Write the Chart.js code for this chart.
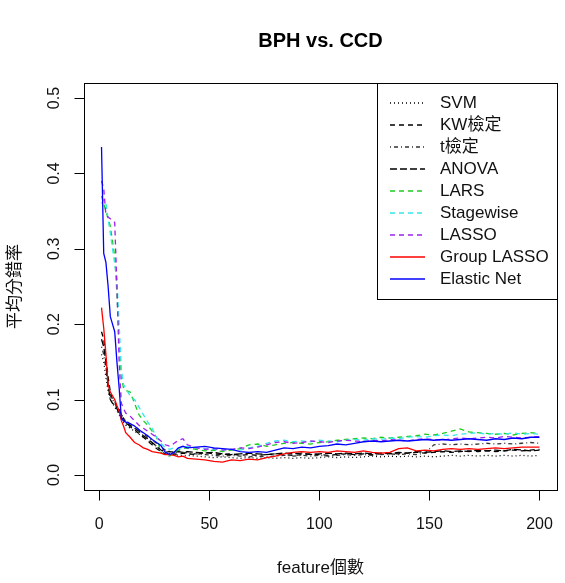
<!DOCTYPE html>
<html>
<head>
<meta charset="utf-8">
<script src="https://cdn.jsdelivr.net/npm/chart.js@4.4.1/dist/chart.umd.min.js"></script>
<style>
body{margin:0;background:#fff;}
canvas{display:block;}
</style>
</head>
<body>
<canvas id="grafik-error" width="565" height="583"></canvas>
<script>
// feature counts (x) and mean error rate per method (y)
const features=[1,2,3,4,5,6,7,8,9,10,11,12,
	14,16,18,20,22,24,26,28,30,32,34,36,38,40,
	44,48,52,56,60,64,68,72,76,80,84,88,92,96,100,
	104,108,112,116,120,124,128,132,136,140,144,148,152,156,160,
	164,168,172,176,180,184,188,192,196,200];

const svmErr=[0.160,0.150,0.130,0.110,0.100,0.095,0.090,0.085,0.080,0.075,0.070,0.066,
	0.062,0.058,0.054,0.050,0.046,0.042,0.038,0.034,0.030,0.028,0.027,0.026,0.025,0.026,
	0.025,0.024,0.023,0.024,0.023,0.022,0.023,0.022,0.023,0.022,0.023,0.022,0.023,0.022,0.023,
	0.024,0.023,0.024,0.023,0.024,0.025,0.024,0.025,0.024,0.025,0.024,0.025,0.024,0.025,0.026,
	0.025,0.026,0.025,0.026,0.025,0.026,0.025,0.026,0.025,0.026];
const kwErr=[0.190,0.180,0.155,0.130,0.110,0.100,0.098,0.090,0.087,0.080,0.075,0.070,
	0.064,0.060,0.055,0.050,0.045,0.040,0.035,0.031,0.028,0.027,0.028,0.027,0.029,0.028,
	0.027,0.030,0.028,0.027,0.028,0.026,0.027,0.026,0.027,0.028,0.027,0.026,0.027,0.028,0.027,
	0.026,0.027,0.028,0.027,0.028,0.027,0.028,0.029,0.028,0.029,0.030,0.029,0.030,0.031,0.030,
	0.031,0.032,0.031,0.032,0.031,0.032,0.033,0.032,0.033,0.034];
const tErr=[0.170,0.160,0.140,0.115,0.105,0.100,0.095,0.090,0.085,0.080,0.076,0.072,
	0.068,0.065,0.060,0.055,0.050,0.046,0.042,0.037,0.033,0.031,0.030,0.032,0.030,0.029,
	0.028,0.027,0.026,0.025,0.026,0.025,0.024,0.025,0.024,0.025,0.026,0.025,0.026,0.025,0.026,
	0.025,0.026,0.027,0.026,0.027,0.026,0.027,0.028,0.027,0.028,0.027,0.029,0.040,0.041,0.040,
	0.041,0.040,0.041,0.042,0.041,0.042,0.041,0.042,0.043,0.042];
const anovaErr=[0.180,0.170,0.150,0.120,0.100,0.095,0.093,0.088,0.082,0.076,0.072,0.068,
	0.066,0.062,0.058,0.052,0.048,0.043,0.038,0.033,0.030,0.031,0.030,0.031,0.030,0.031,
	0.030,0.029,0.030,0.028,0.027,0.028,0.029,0.028,0.027,0.028,0.029,0.028,0.029,0.027,0.028,
	0.029,0.028,0.029,0.028,0.029,0.028,0.029,0.028,0.030,0.029,0.031,0.030,0.031,0.032,0.031,
	0.032,0.031,0.033,0.032,0.033,0.032,0.034,0.033,0.032,0.033];
const larsErr=[0.370,0.360,0.350,0.340,0.330,0.310,0.290,0.240,0.180,0.130,0.115,0.112,
	0.110,0.095,0.080,0.072,0.066,0.058,0.050,0.030,0.026,0.025,0.030,0.033,0.035,0.036,
	0.034,0.032,0.033,0.031,0.033,0.035,0.040,0.041,0.038,0.040,0.042,0.043,0.042,0.041,0.043,
	0.044,0.046,0.047,0.048,0.049,0.048,0.050,0.049,0.050,0.051,0.052,0.054,0.053,0.055,0.058,
	0.061,0.057,0.056,0.055,0.054,0.055,0.053,0.055,0.056,0.055];
const stagewiseErr=[0.360,0.365,0.360,0.340,0.320,0.300,0.280,0.260,0.200,0.140,0.120,0.115,
	0.105,0.100,0.090,0.080,0.070,0.062,0.050,0.042,0.036,0.034,0.036,0.035,0.037,0.038,
	0.036,0.035,0.034,0.033,0.034,0.033,0.036,0.038,0.042,0.045,0.046,0.044,0.045,0.044,0.046,
	0.045,0.044,0.046,0.047,0.046,0.048,0.047,0.049,0.048,0.050,0.051,0.050,0.052,0.053,0.052,
	0.054,0.055,0.056,0.054,0.055,0.054,0.056,0.054,0.055,0.054];
const lassoErr=[0.390,0.380,0.345,0.342,0.340,0.338,0.335,0.250,0.150,0.095,0.088,0.082,
	0.078,0.072,0.066,0.062,0.058,0.054,0.050,0.045,0.040,0.038,0.042,0.046,0.048,0.040,
	0.036,0.034,0.035,0.033,0.034,0.036,0.035,0.037,0.040,0.043,0.044,0.042,0.043,0.045,0.044,
	0.043,0.045,0.046,0.045,0.044,0.046,0.045,0.047,0.046,0.045,0.047,0.048,0.047,0.046,0.048,
	0.049,0.048,0.049,0.050,0.049,0.051,0.050,0.049,0.050,0.051];
const groupLassoErr=[0.222,0.195,0.160,0.120,0.110,0.105,0.100,0.092,0.085,0.072,0.065,0.056,
	0.050,0.043,0.040,0.036,0.034,0.031,0.030,0.029,0.027,0.027,0.026,0.024,0.025,0.022,
	0.021,0.020,0.018,0.017,0.020,0.019,0.021,0.020,0.023,0.025,0.028,0.030,0.031,0.030,0.031,
	0.030,0.032,0.031,0.030,0.032,0.030,0.029,0.030,0.035,0.036,0.032,0.033,0.032,0.034,0.035,
	0.034,0.035,0.034,0.035,0.036,0.035,0.036,0.037,0.037,0.037];
const elasticNetErr=[0.435,0.294,0.282,0.250,0.210,0.200,0.190,0.150,0.116,0.075,0.072,0.070,
	0.068,0.065,0.060,0.056,0.052,0.047,0.043,0.039,0.030,0.027,0.030,0.036,0.038,0.036,
	0.037,0.038,0.036,0.035,0.034,0.031,0.030,0.031,0.030,0.033,0.036,0.035,0.037,0.036,0.038,
	0.039,0.041,0.040,0.042,0.044,0.045,0.044,0.045,0.046,0.045,0.046,0.047,0.046,0.047,0.046,
	0.047,0.048,0.047,0.046,0.048,0.047,0.049,0.048,0.050,0.050];

const methodNames=['SVM','KW檢定','t檢定','ANOVA','LARS','Stagewise','LASSO','Group LASSO','Elastic Net'];
const xTicks=[0,50,100,150,200];
const yTicks=[0,0.1,0.2,0.3,0.4,0.5];

const seriesData=[svmErr,kwErr,tErr,anovaErr,larsErr,stagewiseErr,lassoErr,groupLassoErr,elasticNetErr];
const colors=['#000000','#000000','#333333','#000000','#1fcc1f','#33e8e8','#a020f0','#ff0000','#0000ff'];
const dashes=[[1,3],[5,4],[1,3,4,3],[7,3],[5,4],[5,4],[5,4],[],[]];
const FONT='"Liberation Sans", Arial, "Noto Sans CJK TC", sans-serif';

make_datasets=()=>seriesData.map((vals,i)=>({
	label: methodNames[i],
	data: features.map((f,j)=>({x:f,y:vals[j]})),
	borderColor: colors[i],
	borderDash: dashes[i],
	borderWidth: 1.3,
	pointRadius: 0,
	tension: 0,
	fill: false,
	order: seriesData.length-i
}));

// R style frame, axes, titles and legend
const rStyle={
	id:'rStyle',
	beforeDraw:(chart)=>{
		const ctx=chart.ctx;
		ctx.save();
		ctx.fillStyle='#fff';
		ctx.fillRect(0,0,chart.width,chart.height);
		ctx.restore();
	},
	afterDraw:(chart)=>{
		const {ctx,chartArea:a,scales:{x,y}}=chart;
		const L=Math.round(a.left)+0.5,R=Math.round(a.right)+0.5,T=Math.round(a.top)+0.5,B=Math.round(a.bottom)+0.5;
		ctx.save();
		ctx.strokeStyle='#000';
		ctx.lineWidth=1;
		ctx.setLineDash([]);
		ctx.strokeRect(L,T,R-L,B-T);

		ctx.fillStyle='#111';
		ctx.font='16px '+FONT;
		// x axis
		ctx.beginPath();
		ctx.moveTo(Math.round(x.getPixelForValue(xTicks[0]))+0.5,B);
		ctx.lineTo(Math.round(x.getPixelForValue(xTicks[xTicks.length-1]))+0.5,B);
		xTicks.forEach(v=>{
			const px=Math.round(x.getPixelForValue(v))+0.5;
			ctx.moveTo(px,B);
			ctx.lineTo(px,B+10);
		});
		ctx.stroke();
		ctx.textAlign='center';
		ctx.textBaseline='middle';
		xTicks.forEach(v=>{
			ctx.fillText(String(v),x.getPixelForValue(v),B+34);
		});
		// y axis
		ctx.beginPath();
		ctx.moveTo(L,Math.round(y.getPixelForValue(yTicks[0]))+0.5);
		ctx.lineTo(L,Math.round(y.getPixelForValue(yTicks[yTicks.length-1]))+0.5);
		yTicks.forEach(v=>{
			const py=Math.round(y.getPixelForValue(v))+0.5;
			ctx.moveTo(L,py);
			ctx.lineTo(L-10,py);
		});
		ctx.stroke();
		yTicks.forEach(v=>{
			ctx.save();
			ctx.translate(L-30,y.getPixelForValue(v));
			ctx.rotate(-Math.PI/2);
			ctx.fillText(v.toFixed(1),0,0);
			ctx.restore();
		});

		// titles
		const cx=(a.left+a.right)/2,cy=(a.top+a.bottom)/2;
		ctx.fillStyle='#000';
		ctx.font='bold 20px '+FONT;
		ctx.fillText('BPH vs. CCD',cx,41);
		ctx.fillStyle='#111';
		ctx.font='17px '+FONT;
		ctx.fillText('feature個數',cx,568);
		ctx.save();
		ctx.translate(15,cy);
		ctx.rotate(-Math.PI/2);
		ctx.fillText('平均分錯率',0,0);
		ctx.restore();

		// legend, top right
		const rowH=22;
		const boxL=Math.round(a.right-180)+0.5;
		const boxB=Math.round(a.top+rowH*(methodNames.length+0.8))+0.5;
		ctx.fillStyle='#fff';
		ctx.fillRect(boxL,T,R-boxL,boxB-T);
		ctx.strokeStyle='#000';
		ctx.strokeRect(boxL,T,R-boxL,boxB-T);
		ctx.font='17px '+FONT;
		ctx.textAlign='left';
		methodNames.forEach((name,i)=>{
			const ry=Math.round(a.top+20+rowH*i);
			ctx.save();
			ctx.strokeStyle=colors[i];
			ctx.lineWidth=1.6;
			ctx.setLineDash(dashes[i]);
			ctx.beginPath();
			ctx.moveTo(a.right-167,ry);
			ctx.lineTo(a.right-132,ry);
			ctx.stroke();
			ctx.restore();
			ctx.fillStyle='#111';
			ctx.fillText(name,a.right-117,ry);
		});
		ctx.restore();
	}
};

make_chart=()=>{
	const ctx=document.getElementById('grafik-error');
	new Chart(ctx,{
		type:'line',
		data:{datasets:make_datasets()},
		options:{
			responsive:false,
			animation:false,
			layout:{padding:{left:84,right:8,top:83,bottom:93}},
			plugins:{legend:{display:false},tooltip:{enabled:false},title:{display:false}},
			scales:{
				x:{type:'linear',min:-6.96,max:207.96,display:false},
				y:{type:'linear',min:-0.02,max:0.52,display:false}
			}
		},
		plugins:[rStyle]
	});
}
make_chart();
</script>
</body>
</html>
